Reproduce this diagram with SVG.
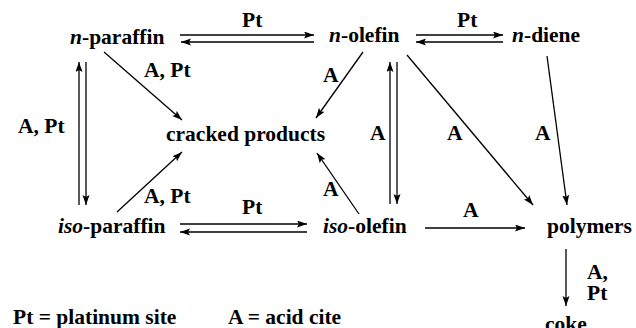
<svg xmlns="http://www.w3.org/2000/svg" width="636" height="328" viewBox="0 0 636 328">
<style>
text{font-family:'Liberation Serif','Times New Roman',serif;font-weight:700;font-size:21.5px;fill:#000}
.i{font-style:italic}
.c line{stroke:#000;stroke-width:1.3;marker-end:url(#ah)}
</style>
<defs>
<marker id="ah" markerUnits="userSpaceOnUse" markerWidth="11" markerHeight="8" refX="10" refY="3.5" orient="auto">
<path d="M0,0 L10,3.5 L0,7 L2,3.5 z" fill="#000"/>
</marker>
</defs>
<rect width="636" height="328" fill="#fff"/>
<g class="c" id="connectors">
<line x1="180" y1="35" x2="314" y2="35"/>
<line x1="314" y1="42" x2="181" y2="42"/>
<line x1="416" y1="35" x2="503" y2="35"/>
<line x1="503" y1="42" x2="416" y2="42"/>
<line x1="79" y1="205" x2="79" y2="62"/>
<line x1="86" y1="62" x2="86" y2="205"/>
<line x1="104" y1="52" x2="182" y2="120"/>
<line x1="117" y1="212" x2="182" y2="152"/>
<line x1="180" y1="224" x2="307" y2="224"/>
<line x1="307" y1="232" x2="180" y2="232"/>
<line x1="363" y1="52" x2="316" y2="118"/>
<line x1="359" y1="214" x2="317" y2="153"/>
<line x1="390" y1="204" x2="390" y2="62"/>
<line x1="397" y1="62" x2="397" y2="204"/>
<line x1="407" y1="55" x2="533" y2="205"/>
<line x1="547" y1="56" x2="567" y2="205"/>
<line x1="425" y1="228" x2="525" y2="228"/>
<line x1="566" y1="249" x2="566" y2="306"/>
</g>
<g id="labels">
<text x="242" y="27">Pt</text>
<text x="457" y="27">Pt</text>
<text x="18" y="133">A, Pt</text>
<text x="144" y="77">A, Pt</text>
<text x="144" y="203">A, Pt</text>
<text x="242" y="214">Pt</text>
<text x="323" y="82">A</text>
<text x="370" y="140">A</text>
<text x="447" y="140">A</text>
<text x="535" y="140">A</text>
<text x="323" y="196">A</text>
<text x="463" y="217">A</text>
<text x="587" y="279">A,</text>
<text x="587" y="300">Pt</text>
</g>
<g id="n-paraffin"><text x="70" y="44"><tspan class="i">n</tspan>-paraffin</text></g>
<g id="n-olefin"><text x="329" y="42"><tspan class="i">n</tspan>-olefin</text></g>
<g id="n-diene"><text x="512" y="42"><tspan class="i">n</tspan>-diene</text></g>
<g id="cracked-products"><text x="166" y="141">cracked products</text></g>
<g id="iso-paraffin"><text x="58" y="233"><tspan class="i">iso</tspan>-paraffin</text></g>
<g id="iso-olefin"><text x="323" y="233"><tspan class="i">iso</tspan>-olefin</text></g>
<g id="polymers"><text x="547" y="233">polymers</text></g>
<g id="coke"><text x="545" y="331">coke</text></g>
<g id="legend">
<text x="13" y="324">Pt = platinum site</text>
<text x="228" y="324">A = acid cite</text>
</g>
</svg>
